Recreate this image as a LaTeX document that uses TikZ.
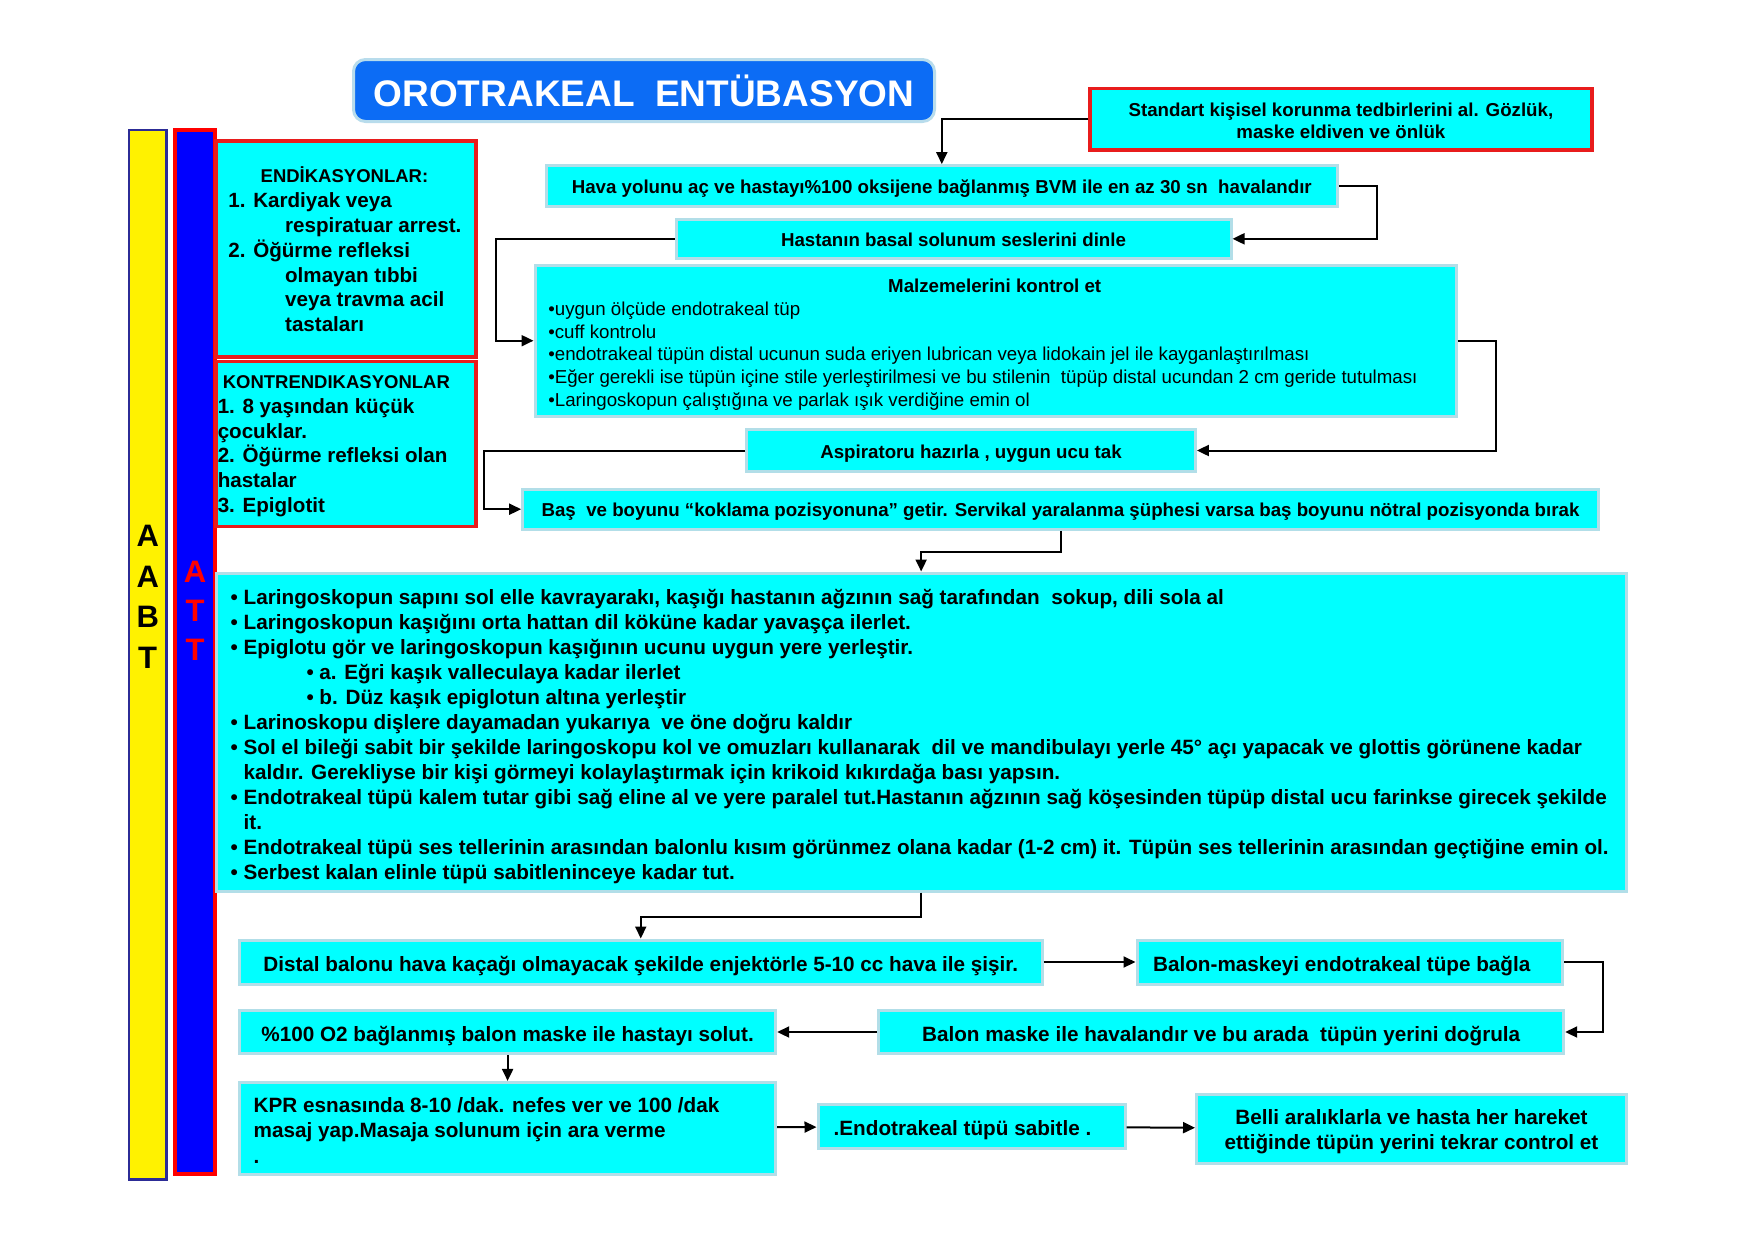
\documentclass[tikz,border=0pt]{standalone}
\usepackage{fontspec}
\setmainfont{Liberation Sans}
\usepackage{tikz}
\usetikzlibrary{arrows.meta}

\definecolor{boxcyan}{RGB}{0,255,255}
\definecolor{boxedge}{RGB}{178,222,232}
\definecolor{titleblue}{RGB}{12,108,245}
\definecolor{titleedge}{RGB}{184,220,236}
\definecolor{boxred}{RGB}{232,28,28}
\definecolor{barblue}{RGB}{0,0,255}
\definecolor{baredge}{RGB}{44,44,150}

\newcommand{\flowsmall}{\fontsize{18.7}{22.7}\selectfont\bfseries}
\newcommand{\flowlarge}{\fontsize{20.7}{25.5}\selectfont\bfseries}
\newcommand{\lbul}{\makebox[13pt][l]{•}}

\begin{document}
\begin{tikzpicture}[x=1pt,y=-1pt,
	cbox/.style={draw=boxedge,line width=3pt,fill=boxcyan,inner sep=0pt},
	rbox/.style={draw=boxred,line width=3.5pt,fill=boxcyan,inner sep=0pt},
	smallflow/.style={font=\flowsmall,text height=15.4pt,text depth=0pt},
	largeflow/.style={font=\flowlarge,text height=18.8pt,text depth=0pt},
	txt/.style={inner sep=0pt,align=left,anchor=west},
	flowarrow/.style={-{Stealth[length=12pt,width=11pt,inset=0pt]},black,line width=2pt}]
		\fill[white] (0,0) rectangle (1755,1240);
		\filldraw[fill=yellow,draw=baredge,line width=2.5pt] (128.8,130) rectangle (166.7,1179.7);
		\filldraw[fill=barblue,draw=red,line width=4pt] (175.3,130.3) rectangle (214.7,1174);
		\node [font=\fontsize{31}{40.5}\selectfont\bfseries,align=center,inner sep=0pt] (abbt) at (147.7,597) {A\\A\\B\\T};
		\node [font=\fontsize{31}{39}\selectfont\bfseries,align=center,inner sep=0pt,text=red] (att) at (195,611) {A\\T\\T};

		\node [fill=titleblue,draw=titleedge,line width=3pt,rounded corners=12pt,minimum width=581pt,minimum height=62pt,text=white,font=\fontsize{37}{44}\selectfont\bfseries] (title) at (644,90.5) {OROTRAKEAL\ \ ENTÜBASYON};

		\node [rbox,minimum width=260pt,minimum height=216pt] (endik) at (346,249) {};
		\node [rbox,minimum width=260pt,minimum height=165pt] (kontr) at (346,444.2) {};
		\node [txt,font=\fontsize{20.6}{24.8}\selectfont\bfseries] (endiktxt) at ([shift={(14,0.5)}]endik.west) {\hspace*{116pt}\makebox[0pt]{\fontsize{18.5}{24.8}\selectfont ENDİKASYONLAR:}\\1. Kardiyak veya\\\hspace*{56.7pt}respiratuar arrest.\\2. Öğürme refleksi\\\hspace*{56.7pt}olmayan tıbbi\\\hspace*{56.7pt}veya travma acil\\\hspace*{56.7pt}tastaları};
		\node [txt,font=\fontsize{20.6}{24.8}\selectfont\bfseries] (kontrtxt) at ([shift={(3.3,2)}]kontr.west) {\hspace*{5pt}{\fontsize{18.5}{24.8}\selectfont KONTRENDIKASYONLAR}\\1. 8 yaşından küçük\\çocuklar.\\2. Öğürme refleksi olan\\hastalar\\3. Epiglotit};

		\node [rbox,minimum width=501.7pt,minimum height=61.6pt] (std) at (1340.9,119.2) {};
		\node [inner sep=0pt,align=center,font=\fontsize{18.7}{21.3}\selectfont\bfseries] (stdtxt) at ([shift={(0,1.5)}]std.center) {Standart kişisel korunma tedbirlerini al. Gözlük,\\maske eldiven ve önlük};
		\node [cbox,smallflow,minimum width=791.6pt,minimum height=40.4pt] (hava) at (941.8,185.8) {Hava yolunu aç ve hastayı\%100 oksijene bağlanmış BVM ile en az 30 sn\ \ havalandır};
		\node [cbox,smallflow,minimum width=555pt,minimum height=39.6pt] (hast) at (953.5,238.8) {Hastanın basal solunum seslerini dinle};
		\node [cbox,minimum width=921pt,minimum height=151.4pt] (malz) at (995.5,340.7) {};
		\node [txt,font=\fontsize{18.7}{22.7}\selectfont] (malztxt) at ([shift={(14.6,4)}]malz.west) {\hspace*{446.4pt}\makebox[0pt]{\bfseries Malzemelerini kontrol et}\\•uygun ölçüde endotrakeal tüp\\•cuff kontrolu\\•endotrakeal tüpün distal ucunun suda eriyen lubrican veya lidokain jel ile kayganlaştırılması\\•Eğer gerekli ise tüpün içine stile yerleştirilmesi ve bu stilenin\ \ tüpüp distal ucundan 2 cm geride tutulması\\•Laringoskopun çalıştığına ve parlak ışık verdiğine emin ol};
		\node [cbox,smallflow,minimum width=448.8pt,minimum height=41.4pt] (asp) at (971,450.5) {Aspiratoru hazırla , uygun ucu tak};
		\node [cbox,smallflow,minimum width=1075.7pt,minimum height=40.4pt] (bas) at (1060.5,509.2) {Baş\ \ ve boyunu “koklama pozisyonuna” getir. Servikal yaralanma şüphesi varsa baş boyunu nötral pozisyonda bırak};

		\node [cbox,minimum width=1410.3pt,minimum height=318pt] (list) at (921.15,732) {};
		\node [txt,font=\fontsize{20.7}{25}\selectfont\bfseries] (listtxt) at ([shift={(16,4.5)}]list.west) {\lbul Laringoskopun sapını sol elle kavrayarakı, kaşığı hastanın ağzının sağ tarafından\ \ sokup, dili sola al\\\lbul Laringoskopun kaşığını orta hattan dil köküne kadar yavaşça ilerlet.\\\lbul Epiglotu gör ve laringoskopun kaşığının ucunu uygun yere yerleştir.\\\hspace*{75.8pt}\lbul a. Eğri kaşık valleculaya kadar ilerlet\\\hspace*{75.8pt}\lbul b. Düz kaşık epiglotun altına yerleştir\\\lbul Larinoskopu dişlere dayamadan yukarıya\ \ ve öne doğru kaldır\\\lbul Sol el bileği sabit bir şekilde laringoskopu kol ve omuzları kullanarak\ \ dil ve mandibulayı yerle 45° açı yapacak ve glottis görünene kadar\\\hspace*{13pt}kaldır. Gerekliyse bir kişi görmeyi kolaylaştırmak için krikoid kıkırdağa bası yapsın.\\\lbul Endotrakeal tüpü kalem tutar gibi sağ eline al ve yere paralel tut.Hastanın ağzının sağ köşesinden tüpüp distal ucu farinkse girecek şekilde\\\hspace*{13pt}it.\\\lbul Endotrakeal tüpü ses tellerinin arasından balonlu kısım görünmez olana kadar (1-2 cm) it. Tüpün ses tellerinin arasından geçtiğine emin ol.\\\lbul Serbest kalan elinle tüpü sabitleninceye kadar tut.};

		\node [cbox,largeflow,minimum width=802.5pt,minimum height=44pt] (dist) at (640.75,962) {Distal balonu hava kaçağı olmayacak şekilde enjektörle 5-10 cc hava ile şişir.};
		\node [cbox,largeflow,minimum width=425.5pt,minimum height=44pt] (balmask) at (1349.75,962) {Balon-maskeyi endotrakeal tüpe bağla\hspace*{16pt}};
		\node [cbox,largeflow,minimum width=536.2pt,minimum height=42.6pt] (oks) at (507.6,1032) {\%100 O2 bağlanmış balon maske ile hastayı solut.};
		\node [cbox,largeflow,minimum width=685.1pt,minimum height=42.6pt] (dogr) at (1221.15,1032) {Balon maske ile havalandır ve bu arada\ \ tüpün yerini doğrula};
		\node [cbox,minimum width=536.2pt,minimum height=91.6pt] (kpr) at (507.6,1128.2) {};
		\node [txt,font=\fontsize{20.7}{25.7}\selectfont\bfseries] (kprtxt) at ([shift={(15.5,2)}]kpr.west) {KPR esnasında 8-10 /dak. nefes ver ve 100 /dak\\masaj yap.Masaja solunum için ara verme\\.};
		\node [cbox,largeflow,minimum width=307pt,minimum height=43.7pt] (endo) at (971.5,1126.5) {.Endotrakeal tüpü sabitle .\hspace*{18pt}};
		\node [cbox,minimum width=429.8pt,minimum height=68.3pt] (belli) at (1411.4,1128.9) {};
		\node [inner sep=0pt,align=center,font=\flowlarge] (bellitxt) at ([shift={(0,3)}]belli.center) {Belli aralıklarla ve hasta her hareket\\ettiğinde tüpün yerini tekrar control et};

		\draw [flowarrow] (std.west) -| (hava.north);
		\draw [flowarrow] (hava.east) -- ++(38,0) |- (hast.east);
		\draw [flowarrow] (hast.west) -- ++(-179,0) |- (malz.west);
		\draw [flowarrow] (malz.east) -- ++(38.3,0) |- (asp.east);
		\draw [flowarrow] (asp.west) -- ++(-260.8,0) |- (bas.west);
		\draw [flowarrow] (bas.south) -- ++(0,21.3) -| (list.north);
		\draw [flowarrow] (list.south) -- ++(0,24.6) -| (dist.north);
		\draw [flowarrow] (balmask.east) -- ++(39.2,0) |- (dogr.east);
		\foreach \from/\to in {dist/balmask, dogr/oks, oks/kpr, kpr/endo, endo/belli}
			\draw [flowarrow] (\from) -- (\to);
\end{tikzpicture}
\end{document}
